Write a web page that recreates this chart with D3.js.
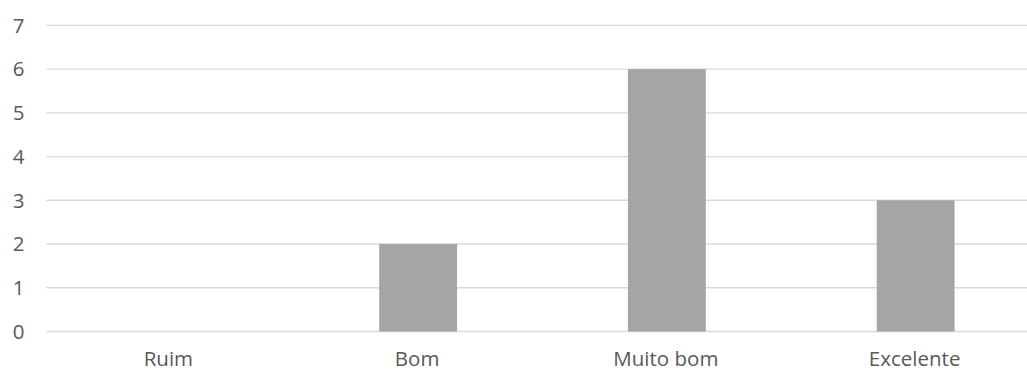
<!DOCTYPE html>
<html>
<head>
<meta charset="utf-8">
<script src="https://cdn.jsdelivr.net/npm/d3@7"></script>
<style>
  html, body { margin: 0; padding: 0; background: #ffffff; }
  svg { display: block; }
  text { font-family: "Open Sans", "Noto Sans", sans-serif; fill: #595959; }
</style>
</head>
<body>
<svg id="chart" width="1027" height="371"></svg>
<script>
// Ratings and how many answers each received
const categories = ["Ruim", "Bom", "Muito bom", "Excelente"];
const values = [0, 2, 6, 3];
const yTicks = [0, 1, 2, 3, 4, 5, 6, 7];

const width = 1027, height = 371;
const svg = d3.select("#chart");

const x = d3.scaleBand().domain(categories).range([45, 1040]).padding(0);
const y = d3.scaleLinear().domain([0, 7]).range([331.5, 25.3]);

const barWidth = x.bandwidth() * 0.313;
const gridLeft = 46.5;

// Horizontal gridlines
svg.append("g")
  .selectAll("line")
  .data(yTicks)
  .join("line")
  .attr("x1", gridLeft)
  .attr("x2", width)
  .attr("y1", d => y(d))
  .attr("y2", d => y(d))
  .attr("stroke", "#d9d9d9")
  .attr("stroke-width", 1.3);

// Bars
svg.append("g")
  .selectAll("rect")
  .data(categories.map((c, i) => ({ c, v: values[i] })))
  .join("rect")
  .attr("x", d => x(d.c) + x.bandwidth() / 2 - barWidth / 2)
  .attr("width", barWidth)
  .attr("y", d => y(d.v))
  .attr("height", d => y(0) - y(d.v))
  .attr("fill", "#a5a5a5");

// Value axis labels
svg.append("g")
  .selectAll("text")
  .data(yTicks)
  .join("text")
  .attr("x", 24.5)
  .attr("y", d => y(d))
  .attr("dy", "0.36em")
  .attr("text-anchor", "end")
  .style("font-size", "20.5px")
  .text(d => d);

// Category axis labels
svg.append("g")
  .selectAll("text")
  .data(categories)
  .join("text")
  .attr("x", d => x(d) + x.bandwidth() / 2 - 1)
  .attr("y", 366)
  .attr("text-anchor", "middle")
  .style("font-size", "20.5px")
  .text(d => d);
</script>
</body>
</html>
